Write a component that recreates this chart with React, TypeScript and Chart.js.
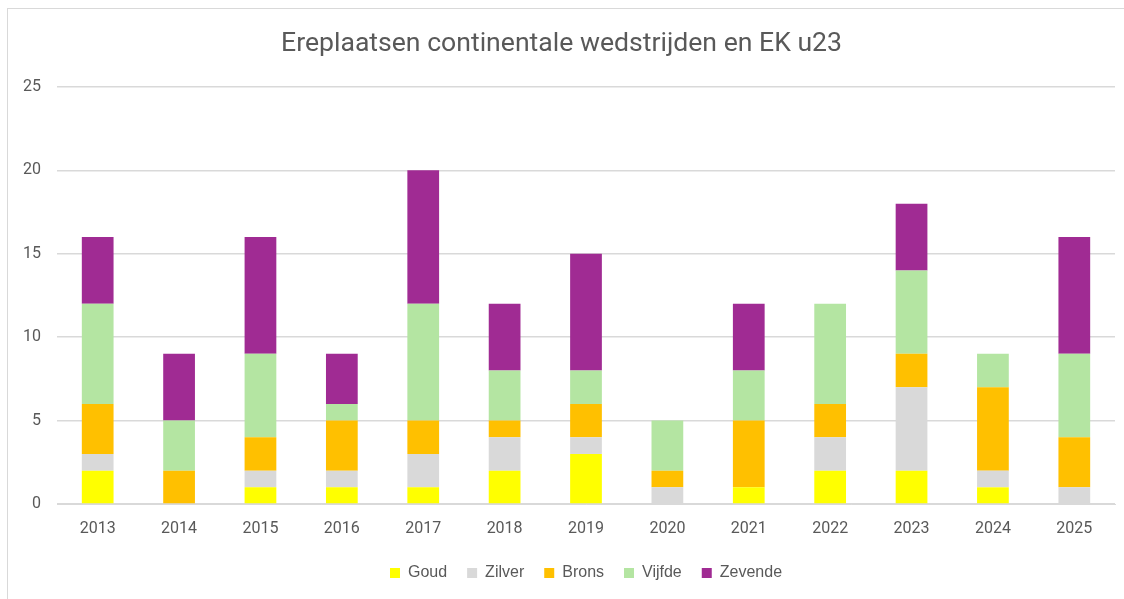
import React, { useEffect, useRef } from "react";
import { Chart, registerables } from "chart.js";

Chart.register(...registerables);

const years = ["2013", "2014", "2015", "2016", "2017", "2018", "2019", "2020", "2021", "2022", "2023", "2024", "2025"];
const goud = [2, 0, 1, 1, 1, 2, 3, 0, 1, 2, 2, 1, 0];
const zilver = [1, 0, 1, 1, 2, 2, 1, 1, 0, 2, 5, 1, 1];
const brons = [3, 2, 2, 3, 2, 1, 2, 1, 4, 2, 2, 5, 3];
const vijfde = [6, 3, 5, 1, 7, 3, 2, 3, 3, 6, 5, 2, 5];
const zevende = [4, 4, 7, 3, 8, 4, 7, 0, 4, 0, 4, 0, 7];

const titleText = "Ereplaatsen continentale wedstrijden en EK u23";
const textColor = "#595959";
const gridColor = "#d9d9d9";

export default function App() {
  const ref = useRef<HTMLCanvasElement | null>(null);
  useEffect(() => {
    if (!ref.current) return;
    const mk = (label: string, data: number[], color: string) => ({
      label,
      data,
      backgroundColor: color,
      borderWidth: 0,
      barPercentage: 0.39,
      categoryPercentage: 1,
    });
    const chart = new Chart(ref.current, {
      type: "bar",
      data: {
        labels: years,
        datasets: [
          mk("Goud", goud, "#ffff00"),
          mk("Zilver", zilver, "#d9d9d9"),
          mk("Brons", brons, "#ffc000"),
          mk("Vijfde", vijfde, "#b4e5a2"),
          mk("Zevende", zevende, "#a02b93"),
        ],
      },
      options: {
        animation: false,
        responsive: false,
        maintainAspectRatio: false,
        layout: { padding: { left: 0, right: 20, top: 0, bottom: 8 } },
        plugins: {
          title: {
            display: true,
            text: titleText,
            color: textColor,
            font: { family: "Roboto", size: 26.6, weight: "normal" },
            padding: { top: 19, bottom: 27 },
          },
          legend: {
            position: "bottom",
            fullSize: false,
            labels: {
              color: textColor,
              font: { family: "Liberation Sans", size: 16 },
              boxWidth: 10,
              boxHeight: 10,
              padding: 20,
            },
          },
          tooltip: { enabled: false },
        },
        scales: {
          x: {
            stacked: true,
            grid: { display: false, drawTicks: false },
            border: { display: true, color: gridColor, width: 1 },
            ticks: { color: textColor, font: { family: "Roboto", size: 16 }, padding: 15 },
            afterFit: (s: any) => {
              s.height = 41;
            },
          },
          y: {
            stacked: true,
            min: 0,
            max: 25,
            grid: { color: gridColor, lineWidth: 1.5, drawTicks: false },
            border: { display: false },
            ticks: { stepSize: 5, color: textColor, font: { family: "Roboto", size: 16 }, padding: 16 },
            afterFit: (s: any) => {
              s.width = 49;
            },
          },
        },
      },
    });
    return () => chart.destroy();
  }, []);
  return (
    <div style={{ position: "fixed", left: 0, top: 0, width: 1124, height: 599, background: "#fff", overflow: "hidden" }}>
      <div
        style={{
          position: "absolute",
          left: 7,
          top: 8,
          width: 1128,
          height: 600,
          borderLeft: "1px solid #d9d9d9",
          borderTop: "1px solid #d9d9d9",
        }}
      >
        <canvas ref={ref} width={1127} height={590} style={{ display: "block", width: 1127, height: 590 }} />
      </div>
    </div>
  );
}
